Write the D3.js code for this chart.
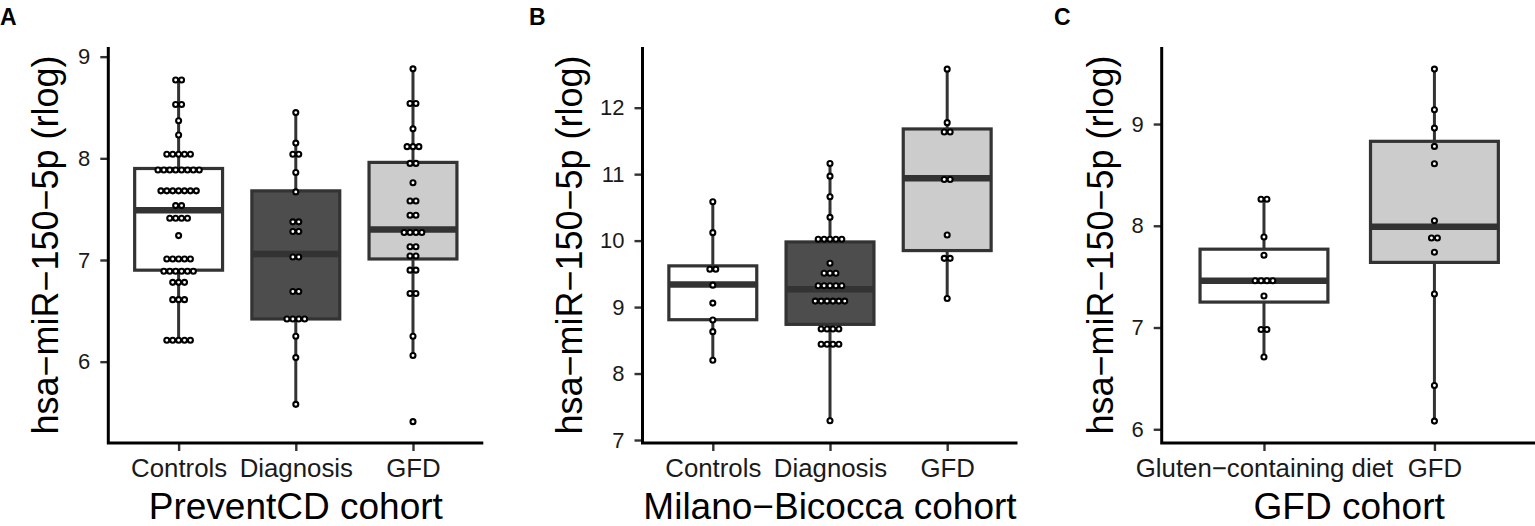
<!DOCTYPE html>
<html>
<head>
<meta charset="utf-8">
<script src="https://cdn.jsdelivr.net/npm/d3@7"></script>
<style>
  body { margin: 0; background: #fff; }
  svg { display: block; font-family: "Liberation Sans", Arial, Helvetica, sans-serif; }
</style>
</head>
<body>
<div id="container"></div>
<script>
// ---- data ----
let groupsA = ["Controls", "Diagnosis", "GFD"];
let groupsB = ["Controls", "Diagnosis", "GFD"];
let groupsC = ["Gluten\u2212containing diet", "GFD"];

let titlesX = ["PreventCD cohort", "Milano\u2212Bicocca cohort", "GFD cohort"];
let titleY = "hsa\u2212miR\u2212150\u22125p (rlog)";
let letters = ["A", "B", "C"];

let ticksA = [6, 7, 8, 9];
let ticksB = [7, 8, 9, 10, 11, 12];
let ticksC = [6, 7, 8, 9];

// box stats per group: [whisker low, q1, median, q3, whisker high]
let boxA = [[6.21, 6.90, 7.49, 7.90, 8.77], [5.58, 6.42, 7.06, 7.68, 8.45], [6.06, 7.01, 7.30, 7.96, 8.88]];
let boxB = [[8.20, 8.81, 9.34, 9.62, 10.59], [7.29, 8.74, 9.27, 9.98, 11.16], [9.13, 9.85, 10.94, 11.68, 12.58]];
let boxC = [[6.71, 7.25, 7.46, 7.77, 8.26], [6.08, 7.64, 7.99, 8.83, 9.54]];

// dotplot bins per group: [value, number of stacked dots]
let dotsA = [
  [[8.77,2],[8.53,2],[8.37,1],[8.23,1],[8.04,5],[7.885,8],[7.68,7],[7.535,2],[7.41,4],[7.24,1],[7.01,5],[6.89,6],[6.78,3],[6.61,3],[6.21,5]],
  [[8.45,1],[8.15,1],[8.04,2],[7.86,1],[7.67,1],[7.375,2],[7.28,2],[7.03,2],[6.69,2],[6.42,4],[6.25,1],[6.04,1],[5.58,1]],
  [[8.88,1],[8.54,2],[8.29,1],[8.115,3],[7.95,2],[7.76,1],[7.58,2],[7.44,2],[7.27,4],[7.13,2],[7.04,2],[6.90,2],[6.67,2],[6.25,1],[6.06,1],[5.41,1]]
];
let dotsB = [
  [[10.585,1],[10.12,1],[9.57,2],[9.33,1],[9.06,1],[8.805,1],[8.63,1],[8.20,1]],
  [[11.16,1],[10.97,1],[10.66,1],[10.35,1],[10.02,5],[9.66,1],[9.51,3],[9.32,5],[9.09,6],[8.67,4],[8.44,4],[7.29,1]],
  [[12.58,1],[11.775,1],[11.634,2],[10.92,2],[10.085,1],[9.733,2],[9.13,1]]
];
let dotsC = [
  [[8.26,2],[7.89,1],[7.71,1],[7.46,4],[7.31,1],[6.98,2],[6.71,1]],
  [[9.54,1],[9.14,1],[8.96,1],[8.78,1],[8.61,1],[8.05,1],[7.88,2],[7.74,1],[7.33,1],[6.43,1],[6.08,1]]
];

// ---- layout / style ----
let w = 1535;
let h = 526;
let plotTop = 47;
let plotBottom = 443;
let plotWidth = 375;
let dotStep = 5.9;

let panels = [
  {groups: groupsA, box: boxA, dots: dotsA, ticks: ticksA, domain: [5.20, 9.095],
   axisX: 108.3, letterX: 0, titleOff: -50, fills: ["#ffffff", "#4d4d4d", "#cccccc"]},
  {groups: groupsB, box: boxB, dots: dotsB, ticks: ticksB, domain: [6.955, 12.913],
   axisX: 642.5, letterX: 529, titleOff: -61, fills: ["#ffffff", "#4d4d4d", "#cccccc"]},
  {groups: groupsC, box: boxC, dots: dotsC, ticks: ticksC, domain: [5.865, 9.757],
   axisX: 1161.7, letterX: 1054, titleOff: -48.5, fills: ["#ffffff", "#cccccc"]}
];

let viz = d3.select("#container").append("svg")
  .attr("width", w)
  .attr("height", h)
  .style("background-color", "#fff");

panels.forEach(function(p, k){
  let x0 = p.axisX;
  let xScale = d3.scalePoint()
    .domain(p.groups)
    .range([x0, x0 + plotWidth])
    .padding(0.6);
  let yScale = d3.scaleLinear()
    .domain(p.domain)
    .range([plotBottom, plotTop]);
  let boxW = xScale.step() * 0.75;

  let g = viz.append("g").classed("panel", true);

  // boxes
  p.groups.forEach(function(name, i){
    let s = p.box[i];
    let cx = xScale(name);
    let bg = g.append("g").classed("box", true);
    bg.append("line")
      .attr("x1", cx).attr("x2", cx)
      .attr("y1", yScale(s[0])).attr("y2", yScale(s[4]))
      .attr("stroke", "#333").attr("stroke-width", 3);
    bg.append("rect")
      .attr("x", cx - boxW / 2)
      .attr("width", boxW)
      .attr("y", yScale(s[3]))
      .attr("height", yScale(s[1]) - yScale(s[3]))
      .attr("fill", p.fills[i])
      .attr("stroke", "#333").attr("stroke-width", 3.2);
    bg.append("line")
      .attr("x1", cx - boxW / 2).attr("x2", cx + boxW / 2)
      .attr("y1", yScale(s[2])).attr("y2", yScale(s[2]))
      .attr("stroke", "#333").attr("stroke-width", 6.5);
  });

  // dots, centred stacks
  p.groups.forEach(function(name, i){
    let cx = xScale(name);
    let pts = [];
    p.dots[i].forEach(function(b){
      for (let j = 0; j < b[1]; j++) {
        pts.push({v: b[0], dx: (j - (b[1] - 1) / 2) * dotStep});
      }
    });
    g.selectAll(null).data(pts).enter().append("circle")
      .attr("cx", function(d){ return cx + d.dx; })
      .attr("cy", function(d){ return yScale(d.v); })
      .attr("r", 2.5)
      .attr("fill", "#fff")
      .attr("stroke", "#000")
      .attr("stroke-width", 2.1);
  });

  // y axis
  let yAxis = d3.axisLeft(yScale).tickValues(p.ticks).tickFormat(d3.format("d"))
    .tickSize(8).tickPadding(10);
  let yg = g.append("g").attr("transform", "translate(" + x0 + ",0)").call(yAxis);
  yg.select(".domain").remove();
  yg.selectAll("line").attr("stroke", "#333").attr("stroke-width", 2.4);
  yg.selectAll("text").attr("fill", "#1a1a1a").style("font-size", "22px")
    .style("font-family", "Liberation Sans, Arial, sans-serif");

  // x axis
  let xAxis = d3.axisBottom(xScale).tickSize(8);
  let xg = g.append("g").attr("transform", "translate(0," + plotBottom + ")").call(xAxis);
  xg.select(".domain").remove();
  xg.selectAll("line").attr("stroke", "#333").attr("stroke-width", 2.4);
  xg.selectAll("text").attr("fill", "#1a1a1a").attr("y", 34).attr("dy", null)
    .style("font-size", "25.8px")
    .style("font-family", "Liberation Sans, Arial, sans-serif");

  // axis lines
  g.append("path")
    .attr("d", "M" + x0 + "," + plotTop + "V" + plotBottom + "H" + (x0 + plotWidth))
    .attr("fill", "none").attr("stroke", "#000").attr("stroke-width", 3);

  // titles
  g.append("text")
    .attr("x", x0 + plotWidth / 2)
    .attr("y", 519)
    .attr("text-anchor", "middle")
    .attr("fill", "#000")
    .style("font-size", "37px")
    .text(titlesX[k]);
  g.append("text")
    .attr("transform", "translate(" + (x0 + p.titleOff) + "," + ((plotTop + plotBottom) / 2) + ") rotate(-90)")
    .attr("text-anchor", "middle")
    .attr("fill", "#000")
    .style("font-size", "36px")
    .text(titleY);
  g.append("text")
    .attr("x", p.letterX)
    .attr("y", 25)
    .attr("fill", "#000")
    .style("font-size", "23px")
    .style("font-weight", "bold")
    .text(letters[k]);
});
</script>
</body>
</html>
